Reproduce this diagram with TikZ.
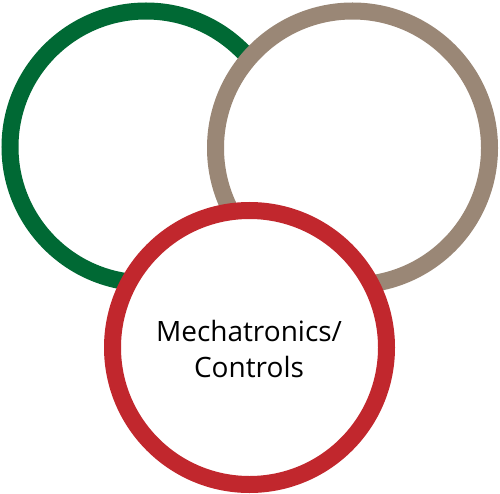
\documentclass[tikz,border=0pt]{standalone}
\usepackage{fontspec}
\setmainfont{Open Sans}
\definecolor{ringgreen}{HTML}{006934}
\definecolor{ringtan}{HTML}{9A8776}
\definecolor{ringred}{HTML}{C1272D}
\begin{document}
\begin{tikzpicture}[x=1pt,y=-1pt,
  ring/.style={line width=17pt,fill=white}]
\useasboundingbox (0,0) rectangle (500,494);
\draw[ring,draw=ringgreen] (146,147) circle[radius=136];
\draw[ring,draw=ringtan] (352.5,148) circle[radius=137];
\draw[ring,draw=ringred] (249.5,347.5) circle[radius=137];
\node[font=\fontsize{28}{36}\selectfont,align=center,text=black] (lbl) at (249,349) {Mechatronics/\\Controls};
\end{tikzpicture}
\end{document}
